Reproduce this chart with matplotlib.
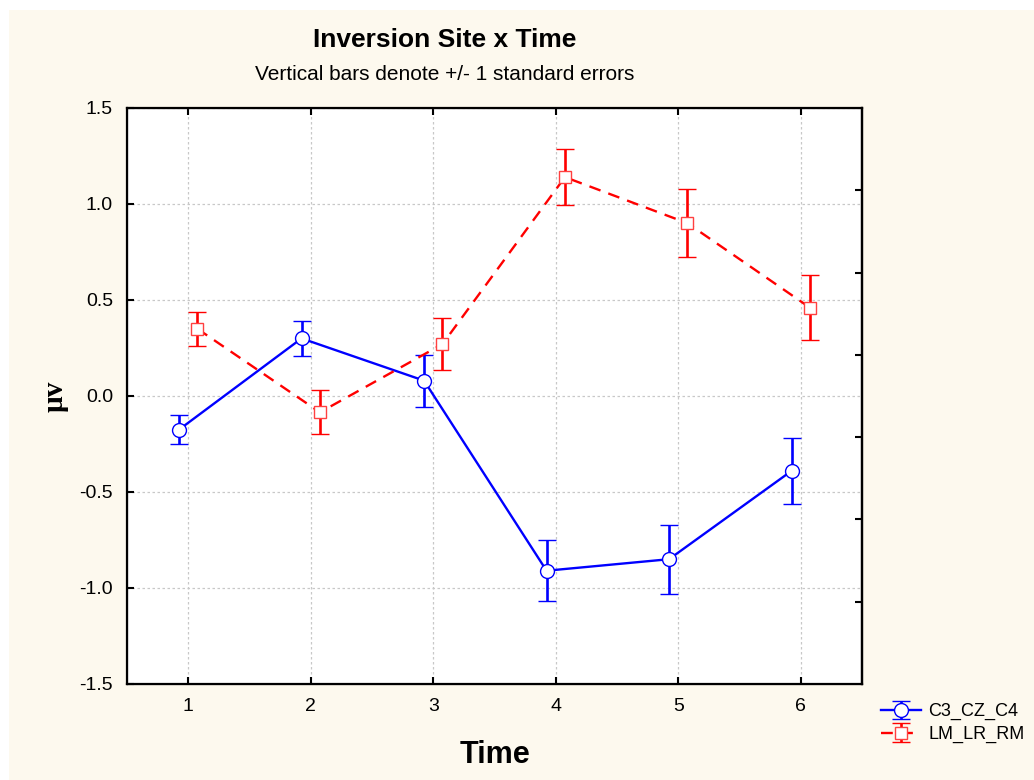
import matplotlib.pyplot as plt
from matplotlib.patches import Rectangle

# means and standard errors per time point
time = [1, 2, 3, 4, 5, 6]
c3_cz_c4 = [-0.175, 0.30, 0.08, -0.91, -0.85, -0.39]
c3_cz_c4_se = [0.077, 0.09, 0.135, 0.16, 0.18, 0.17]
lm_lr_rm = [0.35, -0.085, 0.27, 1.14, 0.90, 0.46]
lm_lr_rm_se = [0.09, 0.115, 0.135, 0.145, 0.177, 0.17]
yticks = [-1.5, -1.0, -0.5, 0.0, 0.5, 1.0, 1.5]

plt.rcParams['font.family'] = ['Liberation Sans', 'DejaVu Sans']

fig = plt.figure(figsize=(10.34, 7.8), dpi=100)
fig.patch.set_facecolor('white')
fig.patches.append(Rectangle((9 / 1034, 0), 1, 1 - 10 / 780, transform=fig.transFigure,
                             facecolor='#fdf9ee', edgecolor='none', zorder=-10))

ax = fig.add_axes([127 / 1034, 1 - 684 / 780, 735 / 1034, 576 / 780])
ax.set_facecolor('white')

off = 0.075
xb = [t - off for t in time]
xr = [t + off for t in time]

ax.errorbar(xb, c3_cz_c4, yerr=c3_cz_c4_se, color='#0000ff', lw=1.7, elinewidth=1.9,
            capsize=6.5, capthick=1.9, marker='o', ms=10, mfc='white', mec='#0000ff',
            mew=1.0, label='C3_CZ_C4', zorder=3)
ax.errorbar(xr, lm_lr_rm, yerr=lm_lr_rm_se, color='#ff0000', lw=1.7, ls='--', dashes=(5, 3.5),
            elinewidth=1.9, capsize=6.5, capthick=1.9, marker='s', ms=9, mfc='white',
            mec='#ff4040', mew=1.0, label='LM_LR_RM', zorder=3)

ax.set_xlim(0.5, 6.5)
ax.set_ylim(-1.5, 1.5)
ax.set_xticks(time)
ax.set_yticks(yticks)
ax.set_yticklabels([f'{v:.1f}' for v in yticks])
ax.grid(True, color='#c8c8c8', ls=(0, (2, 2)), lw=0.9)
ax.set_axisbelow(True)
ax.tick_params(direction='in', length=5, width=1.5, labelsize=14, pad=10,
               top=True, right=False)
for s in ax.spines.values():
    s.set_linewidth(1.6)

# unlabelled ticks along the right edge
ax2 = ax.twinx()
ax2.set_ylim(0, 7)
ax2.set_yticks([1, 2, 3, 4, 5, 6])
ax2.set_yticklabels([])
ax2.tick_params(direction='in', length=5, width=1.5)
ax2.spines['right'].set_linewidth(1.6)

ax.set_xlabel('Time', fontsize=22, fontweight='bold', labelpad=18)
ax.set_ylabel('µv', fontsize=21, fontweight='bold', family='Liberation Serif', labelpad=8)

fig.text(445 / 1034, 1 - 40 / 780, 'Inversion Site x Time', ha='center', va='center',
         fontsize=19, fontweight='bold')
fig.text(445 / 1034, 1 - 75 / 780, 'Vertical bars denote +/- 1 standard errors',
         ha='center', va='center', fontsize=15)

fig.legend(loc='upper left', bbox_to_anchor=(874 / 1034, 1 - 696 / 780), frameon=False,
           fontsize=13, handlelength=2.2, handletextpad=0.4, labelspacing=0.3,
           borderaxespad=0)

fig.savefig('out.png', dpi=100, facecolor=fig.get_facecolor())
